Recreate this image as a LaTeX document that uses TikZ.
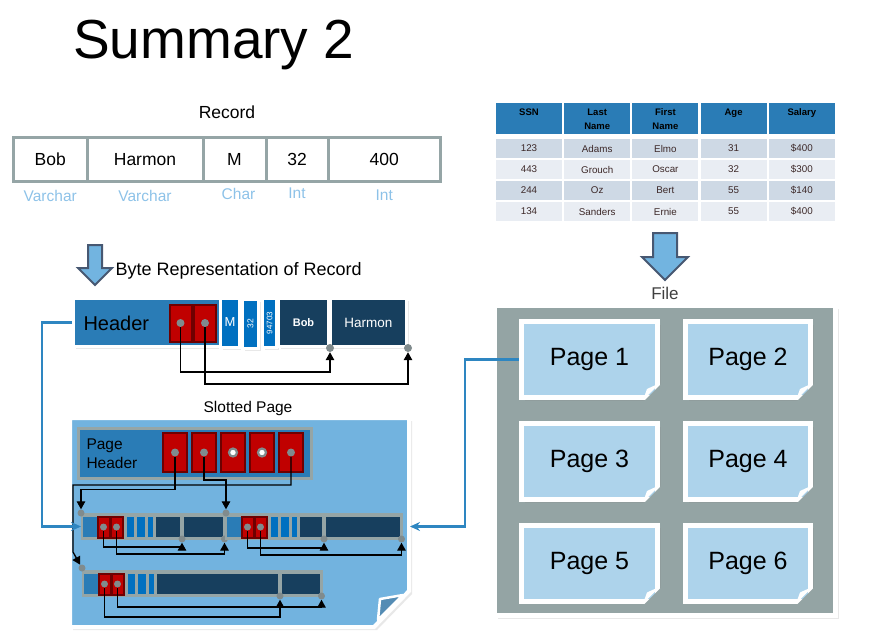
\documentclass[tikz,border=0pt]{standalone}
\usepackage{fontspec}
\setmainfont{Liberation Sans}
\usetikzlibrary{positioning,arrows.meta,shadows}

\definecolor{headblue}{RGB}{42,124,182}
\definecolor{barblue}{RGB}{0,112,192}
\definecolor{navy}{RGB}{23,63,94}
\definecolor{slotred}{RGB}{192,0,0}
\definecolor{slotedge}{RGB}{110,0,0}
\definecolor{framegray}{RGB}{149,165,166}
\definecolor{slotpage}{RGB}{114,179,223}
\definecolor{curlblue}{RGB}{84,140,180}
\definecolor{filegray}{RGB}{148,164,164}
\definecolor{pagelight}{RGB}{173,211,235}
\definecolor{arrowfill}{RGB}{114,180,224}
\definecolor{arrowedge}{RGB}{71,88,114}
\definecolor{typeblue}{RGB}{141,194,232}
\definecolor{linkblue}{RGB}{46,134,193}
\definecolor{dotgray}{RGB}{128,139,141}
\definecolor{rowa}{RGB}{206,217,229}
\definecolor{rowb}{RGB}{233,237,243}
\definecolor{tabtext}{RGB}{60,40,40}

\begin{document}
\begin{tikzpicture}[x=1pt, y=-1pt,
    softshadow/.style={drop shadow={opacity=0.18, shadow xshift=#1, shadow yshift=-#1}},
    softshadow/.default=2.6pt,
    cellbox/.style={draw=framegray, line width=3, minimum height=44, outer sep=0pt, font=\fontsize{17.5}{21}\selectfont},
    typelbl/.style={text=typeblue, font=\fontsize{15.5}{18}\selectfont},
    card/.style={draw=white, line width=3, inner sep=0pt, softshadow},
    slotbox/.style={fill=slotred, draw=slotedge, line width=2, minimum width=22, minimum height=37, inner sep=0pt},
    ptrdot/.style={circle, fill=dotgray, minimum size=8, inner sep=0pt},
    freedot/.style={circle, fill=white, draw=dotgray, line width=2.2, minimum size=8, inner sep=0pt},
    ptr/.style={draw=black, line width=1.3, -{Triangle[length=8pt,width=8.5pt]}},
    linkline/.style={draw=linkblue, line width=2.5, -{Stealth[length=10pt,width=9pt]}},
    bigarrow/.style={fill=arrowfill, draw=arrowedge, line width=2, line join=miter},
    thcell/.style={fill=headblue, minimum width=66, minimum height=31, inner sep=0pt},
    tdcell/.style={minimum width=66, minimum height=19.5, inner sep=0pt, text=tabtext, font=\fontsize{9.8}{11}\selectfont},
    pagebox/.style={fill=pagelight, draw=white, line width=5, minimum height=76, font=\fontsize{25}{30}\selectfont, softshadow=3.4pt},
  ]
  \useasboundingbox (0,0) rectangle (873,633);
  \node[anchor=base west, inner sep=0pt, font=\fontsize{55}{60}\selectfont] (title) at (73,58) {Summary 2};

  % record
  \node[font=\fontsize{17.5}{21}\selectfont] (reclbl) at (227,112) {Record};
  \node[cellbox, minimum width=73.5] (rc1) at (50.25,159.5) {Bob};
  \node[cellbox, minimum width=116] (rc2) at (145,159.5) {Harmon};
  \node[cellbox, minimum width=63] (rc3) at (234.5,159.5) {M};
  \node[cellbox, minimum width=62] (rc4) at (297,159.5) {32};
  \node[cellbox, minimum width=112.5] (rc5) at (384.25,159.5) {400};
  \node[typelbl, below=5pt of rc1] (ty1) {Varchar};
  \node[typelbl, below=5pt of rc2] (ty2) {Varchar};
  \node[typelbl, below=3pt of rc3, xshift=4pt] (ty3) {Char};
  \node[typelbl, below=3pt of rc4] (ty4) {Int};
  \node[typelbl, below=5pt of rc5] (ty5) {Int};

  \draw[bigarrow] (88,245) -- (102,245) -- (102,268) -- (112,268) -- (95,285) -- (78,268) -- (88,268) -- cycle;
  \node[anchor=west, font=\fontsize{18}{21}\selectfont] (bytelbl) at (112,271) {Byte Representation of Record};

  % byte representation
  \node[card, fill=headblue, minimum width=148, minimum height=48] (hdr) at (147.5,322.5) {};
  \node[anchor=west, font=\fontsize{20}{24}\selectfont] (hdrtxt) at (80,323) {Header};
  \node[slotbox] (hs1) at (180.5,323) {};
  \node[slotbox] (hs2) at (205,323) {};
  \node[card, fill=barblue, minimum width=19, minimum height=49, text=white, font=\fontsize{13}{15}\selectfont] (bm) at (230,322.5) {M};
  \node[card, fill=barblue, minimum width=49, minimum height=16, rotate=90, text=white, font=\fontsize{8.5}{10}\selectfont] (b32) at (250.5,323.5) {32};
  \node[card, fill=barblue, minimum width=49, minimum height=14, rotate=90, text=white, font=\fontsize{8}{10}\selectfont] (bzip) at (269.5,323) {94703};
  \node[card, fill=navy, minimum width=50, minimum height=48, text=white, font=\bfseries\fontsize{11}{13}\selectfont] (bob) at (303.5,322.5) {Bob};
  \node[card, fill=navy, minimum width=76, minimum height=48, text=white, font=\fontsize{13.5}{16}\selectfont] (harm) at (368.5,322.5) {Harmon};
  \node[ptrdot] (hd1) at (hs1) {};
  \node[ptrdot] (hd2) at (hs2) {};
  \node[ptrdot] (bd1) at (bob.south east) {};
  \node[ptrdot] (bd2) at (harm.south east) {};
  \draw[ptr] (hd1) -- ++(0,49) -| (bd1);
  \draw[ptr] (hd2) -- ++(0,61) -| (bd2);

  % slotted page
  \node[font=\fontsize{15.5}{18}\selectfont] (slotlbl) at (248,408) {Slotted Page};
  \filldraw[slotpage, draw=white, line width=4, softshadow=3pt] (70,418) -- (409,418) -- (409,591) -- (374,627) -- (70,627) -- cycle;
  \filldraw[curlblue, draw=white, line width=2.5, line join=round] (380,599) -- (403,595) -- (378,620) -- cycle;
  \node[fill=headblue, draw=framegray, line width=3, minimum width=233, minimum height=50] (phdr) at (195,453.5) {};
  \node[anchor=west, align=left, font=\fontsize{15.5}{19}\selectfont] (phtxt) at (83,453.5) {Page\\Header};
  \node[slotbox, minimum width=24, minimum height=39] (ps1) at (175,452.5) {};
  \node[slotbox, minimum width=24, minimum height=39] (ps2) at (204,452.5) {};
  \node[slotbox, minimum width=24, minimum height=39] (ps3) at (233,452.5) {};
  \node[slotbox, minimum width=24, minimum height=39] (ps4) at (262,452.5) {};
  \node[slotbox, minimum width=24, minimum height=39] (ps5) at (291,452.5) {};
  \node[ptrdot] (pd1) at (ps1) {};
  \node[ptrdot] (pd2) at (ps2) {};
  \node[freedot] (pd3) at (ps3) {};
  \node[freedot] (pd4) at (ps4) {};
  \node[ptrdot] (pd5) at (ps5) {};

  \foreach \x/\y/\na/\nb/\nc/\da/\db [count=\i] in {81/513/99/103/142/20/27, 225/513/97/101/175/21/28, 82/570/196/200/238/33/23}{
    \node[fill=framegray, anchor=north west, inner sep=0pt, outer sep=0pt, minimum width=\nc+3, minimum height=27] (rec\i) at (\x,\y) {};
    \fill[headblue] (\x+2,\y+4) rectangle (\x+16,\y+24);
    \filldraw[slotred, draw=slotedge, line width=1.5] (\x+17,\y+4) rectangle (\x+29,\y+25);
    \filldraw[slotred, draw=slotedge, line width=1.5] (\x+30,\y+4) rectangle (\x+42,\y+25);
    \fill[barblue] (\x+46,\y+4) rectangle (\x+53,\y+24);
    \fill[barblue] (\x+56,\y+4) rectangle (\x+64,\y+24);
    \fill[barblue] (\x+67,\y+4) rectangle (\x+72,\y+24);
    \fill[navy] (\x+75,\y+4) rectangle (\x+\na,\y+24);
    \fill[navy] (\x+\nb,\y+4) rectangle (\x+\nc,\y+24);
    \node[ptrdot, minimum size=7] (ra\i) at (\x+22.5,\y+14) {};
    \node[ptrdot, minimum size=7] (rb\i) at (\x+35.5,\y+14) {};
    \node[ptrdot, minimum size=7] (ea\i) at (\x+\na+2,\y+26) {};
    \node[ptrdot, minimum size=7] (eb\i) at (\x+\nc+1.5,\y+26) {};
    \draw[ptr] (ra\i) -- ++(0,\da) -| (ea\i);
    \draw[ptr] (rb\i) -- ++(0,\db) -| (eb\i);
  }
  \node[ptrdot, minimum size=7] (pa) at (rec1.north west) {};
  \node[ptrdot, minimum size=7] (pb) at (rec1.north east) {};
  \node[ptrdot, minimum size=7] (pc) at ([shift={(0,-2)}]rec3.north west) {};
  \draw[ptr] (pd1) -- ++(0,37) -| (pa);
  \draw[ptr] (pd2) -- ++(0,27.5) -| (pb);
  \draw[ptr] (pd5) -- ++(0,32.5) -| ([shift={(-9,-16)}]pc.center) -- (pc);
  \draw[linkline] (hdr.west) -- ++(-30,0) |- (rec1.west);

  % table
  \foreach \h [count=\i from 0] in {SSN,{Last\\Name},{First\\Name},Age,Salary}{
    \node[thcell] (th\i) at ({529+\i*68.2},118.5) {};
    \node[anchor=north, align=center, inner sep=0pt, font=\bfseries\fontsize{9.5}{14}\selectfont] (tht\i) at ({529+\i*68.2},108.5) {\h};
  }
  \foreach \a/\b/\c/\d/\e/\f [count=\r] in {123/Adams/Elmo/31/\$400/rowa, 443/Grouch/Oscar/32/\$300/rowb, 244/Oz/Bert/55/\$140/rowa, 134/Sanders/Ernie/55/\$400/rowb}{
    \foreach \v [count=\k from 0] in {\a,\b,\c,\d,\e}
      \node[tdcell, fill=\f] (td\r-\k) at ({529+\k*68.2},{127.5+\r*21}) {\v};
  }

  % file
  \draw[bigarrow] (653,233) -- (677,233) -- (677,257) -- (688,257) -- (665,280) -- (642,257) -- (653,257) -- cycle;
  \node[fill=filegray, draw=white, line width=5, minimum width=341, minimum height=310, softshadow=3.6pt] (file) at (665,460.5) {};
  \node[above=0pt of file, text=black!75, font=\fontsize{17}{20}\selectfont] (filelbl) {File};
  \node[pagebox, minimum width=136] (p1) at (589.5,359.5) {Page 1};
  \node[pagebox, minimum width=125] (p2) at (748,359.5) {Page 2};
  \node[pagebox, minimum width=136] (p3) at (589.5,461.5) {Page 3};
  \node[pagebox, minimum width=125] (p4) at (748,461.5) {Page 4};
  \node[pagebox, minimum width=136] (p5) at (589.5,563) {Page 5};
  \node[pagebox, minimum width=125] (p6) at (748,563) {Page 6};
  \foreach \n in {1,...,6}{
    \fill[filegray] ([shift={(-20,5)}]p\n.south east) -- ([shift={(5,5)}]p\n.south east) -- ([shift={(5,-20)}]p\n.south east) -- cycle;
    \fill[white] ([shift={(-17,0)}]p\n.south east) -- ([shift={(0,-17)}]p\n.south east) -- ([shift={(-13,-11)}]p\n.south east) -- cycle;
  }
  \draw[linkline] (p1.west) -- ++(-54,0) |- ([xshift=7pt]rec2.east);
\end{tikzpicture}
\end{document}
